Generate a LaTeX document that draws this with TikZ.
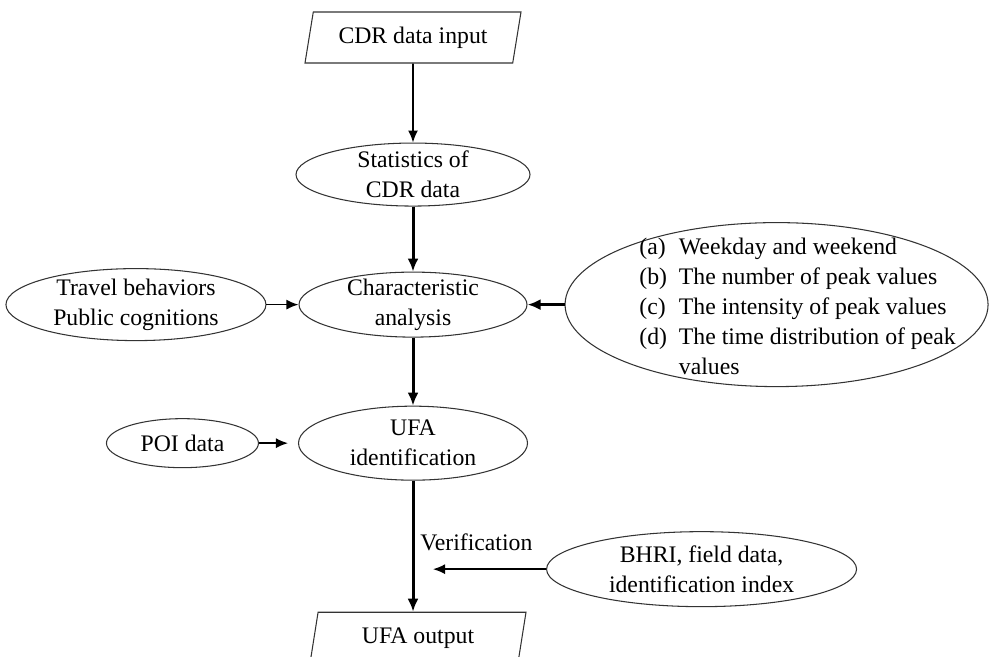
\documentclass[tikz,border=0pt]{standalone}
\usepackage{fontspec}
\setmainfont{Liberation Serif}
\usepackage{tikz}
\usetikzlibrary{shapes.geometric, arrows.meta, positioning, calc}

\begin{document}
\begin{tikzpicture}[
    node distance=0.6cm,
    txt/.style={font=\fontsize{13.5}{17}\selectfont, align=center},
    oval/.style={ellipse, draw=black!80, line width=0.6pt, inner sep=0pt},
    io/.style={trapezium, trapezium left angle=76, trapezium right angle=104, trapezium stretches body,
        draw=black!80, line width=0.6pt, minimum width=4.32cm, minimum height=1.02cm, txt},
    arr/.style={-{Latex[length=2.6mm, width=2.2mm]}, line width=1.7pt},
    tarr/.style={-{Latex[length=2.4mm, width=2mm]}, line width=0.9pt},
]
\useasboundingbox (0,0) rectangle (19.82,-13.14);

% main column
\node[io] (in) at (8.26,-0.75) {CDR data input};
\node[oval, minimum width=4.68cm, minimum height=1.26cm, below=1.58cm of in,
    label={[txt]center:Statistics of\\CDR data}] (stats) {};
\node[oval, minimum width=4.56cm, minimum height=1.3cm, below=1.3cm of stats,
    label={[txt]center:Characteristic\\analysis}] (char) {};
\node[oval, minimum width=4.58cm, minimum height=1.48cm, below=1.36cm of char,
    label={[txt]center:UFA\\identification}] (ufa) {};
\node[io, below=2.62cm of ufa, xshift=0.1cm] (out) {UFA output};

% side inputs
\node[oval, minimum width=5.2cm, minimum height=1.44cm, left=0.64cm of char,
    label={[txt]center:Travel behaviors\\Public cognitions}] (travel) {};
\node[oval, minimum width=8.46cm, minimum height=3.28cm, right=0.74cm of char,
    label={[txt, xshift=0.42cm, yshift=-0.08cm]center:{\begin{tabular}{@{}l@{\ \ }l@{}}
        (a) & Weekday and weekend\\
        (b) & The number of peak values\\
        (c) & The intensity of peak values\\
        (d) & The time distribution of peak\\
            & values
    \end{tabular}}}] (peak) {};
\node[oval, minimum width=3.04cm, minimum height=0.98cm, left=0.78cm of ufa,
    label={[txt]center:POI data}] (poi) {};
\node[oval, minimum width=6.2cm, minimum height=1.5cm, right=0.36cm of ufa, yshift=-2.52cm,
    label={[txt]center:BHRI, field data,\\identification index}] (bhri) {};
\coordinate (vtip) at ($(bhri.west -| ufa.south)+(0.4,0)$);

\foreach \a/\b in {stats/char, char/ufa, peak/char} {
    \draw[arr] (\a) -- (\b);
}
\draw[arr] (ufa.south) -- node[txt, pos=0.53, anchor=base west] (verif) {Verification} (ufa.south |- out.north);

\draw[tarr] (in) -- (stats);
\draw[tarr] (travel) -- (char);
\draw[tarr, shorten >=0.2cm] (poi) -- (ufa);
\draw[tarr] (bhri) -- (vtip);

\end{tikzpicture}
\end{document}
